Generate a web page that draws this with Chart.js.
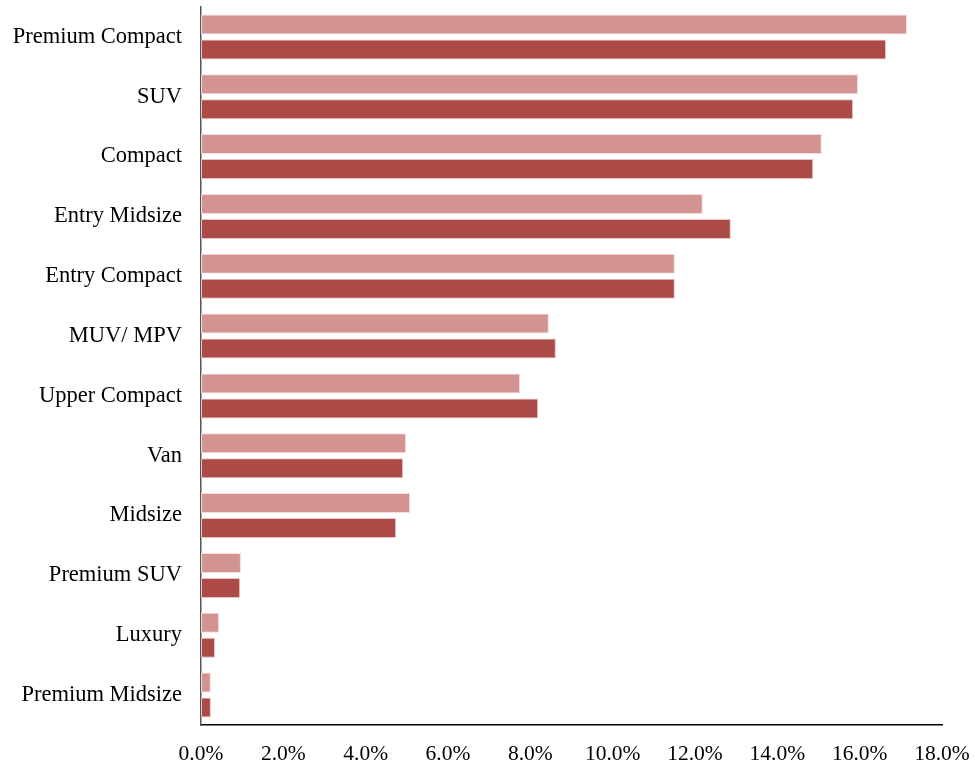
<!DOCTYPE html>
<html>
<head>
<meta charset="utf-8">
<script src="https://cdn.jsdelivr.net/npm/chart.js@4.4.1/dist/chart.umd.min.js"></script>
<style>
html,body{margin:0;padding:0;background:#fff;}
#wrap{width:975px;height:765px;position:relative;}
</style>
</head>
<body>
<div id="wrap"><canvas id="c" width="975" height="765"></canvas></div>
<script>
const categories = ["Premium Compact","SUV","Compact","Entry Midsize","Entry Compact","MUV/ MPV","Upper Compact","Van","Midsize","Premium SUV","Luxury","Premium Midsize"];
const seriesA = [17.15,15.96,15.08,12.19,11.51,8.45,7.75,4.98,5.08,0.97,0.44,0.24];
const seriesB = [16.64,15.84,14.87,12.87,11.51,8.62,8.19,4.91,4.74,0.95,0.34,0.24];
const xTicks = [0,2,4,6,8,10,12,14,16,18];

new Chart(document.getElementById('c'), {
  type: 'bar',
  data: {
    labels: categories,
    datasets: [
      {label:'A', data: seriesA, backgroundColor:'#D39391', borderColor:'#F3DCDB', borderWidth:1, borderSkipped:false, barPercentage:0.8, categoryPercentage:0.836},
      {label:'B', data: seriesB, backgroundColor:'#AB4A47', borderColor:'#E7C3C2', borderWidth:1, borderSkipped:false, barPercentage:0.8, categoryPercentage:0.836}
    ]
  },
  options: {
    indexAxis: 'y',
    responsive: false,
    animation: false,
    layout: {padding: {top: 7, right: 33, bottom: 0, left: 0}},
    plugins: {legend:{display:false}, tooltip:{enabled:false}},
    scales: {
      x: {
        min: 0, max: 18,
        afterBuildTicks: (s) => { s.ticks = xTicks.map(v => ({value: v})); },
        afterFit: (s) => { s.height = 40; s.paddingLeft = 0; s.paddingRight = 0; },
        grid: {display:false, drawTicks:false},
        border: {display:true, color:'#000', width:1.5},
        ticks: {color:'#000', padding: 16, font:{family:'"Liberation Serif", "Times New Roman", serif', size:21.5},
          callback: (v) => v.toFixed(1) + '%'}
      },
      y: {
        afterFit: (s) => { s.width = 201; s.paddingTop = 0; s.paddingBottom = 0; },
        grid: {display:false, drawTicks:false},
        border: {display:true, color:'#555', width:1.5},
        ticks: {color:'#000', padding: 19, font:{family:'"Liberation Serif", "Times New Roman", serif', size:22.5}}
      }
    }
  }
});
</script>
</body>
</html>
